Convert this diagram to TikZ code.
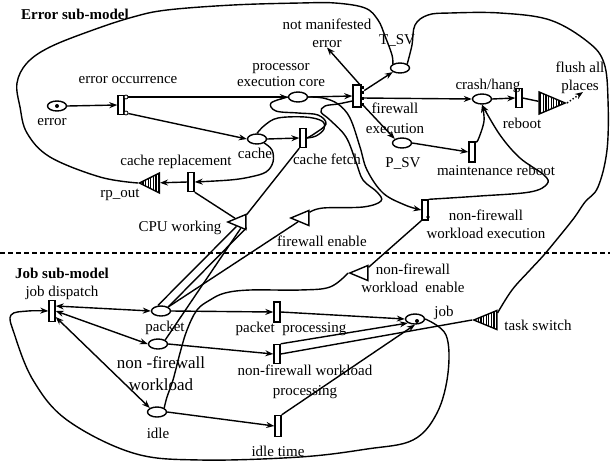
\documentclass[tikz,border=0pt]{standalone}
\usepackage{fontspec}
\setmainfont{Liberation Serif}
\usetikzlibrary{arrows.meta,shapes.geometric,patterns.meta}

\tikzset{
  place/.style={draw, ellipse, line width=1.4pt, minimum width=19pt, minimum height=10pt, inner sep=0pt},
  trans/.style={draw, rectangle, line width=1.4pt, minimum width=6pt, minimum height=19pt, inner sep=0pt, fill=white},
  casept/.style={draw, circle, line width=0.8pt, minimum size=4pt, inner sep=0pt, fill=white},
  stub/.style={fill, rectangle, minimum width=4pt, minimum height=3pt, inner sep=0pt},
  ingate/.style={draw, isosceles triangle, isosceles triangle stretches, shape border rotate=180,
    minimum height=18pt, minimum width=15pt, inner sep=0pt, line width=1.4pt, fill=white, anchor=apex},
  outgate/.style={ingate, pattern={Lines[angle=90,distance=2.6pt,line width=1.1pt]}},
  lbl/.style={font=\fontsize{15}{18}\selectfont, inner sep=0pt, align=center},
  title/.style={lbl, font=\fontsize{15}{18}\selectfont\bfseries},
  arc/.style={line width=1.4pt, -{Stealth[length=8pt,width=6pt]}},
  dblarc/.style={line width=1.4pt, {Stealth[length=8pt,width=6pt]}-{Stealth[length=8pt,width=6pt]}},
  link/.style={line width=1.4pt},
}

\begin{document}
\begin{tikzpicture}[x=1pt, y=-1pt]
    \useasboundingbox (0,0) rectangle (610,464);

    % Error sub-model
    \node[title] (t-err) at (75,14) {Error sub-model};

    \node[place] (err) at (57,106) {};
    \fill (err) circle (2pt);
    \node[trans] (eocc) at (121,105) {};
    \node[casept] (eoA) at (126,97) {};
    \node[casept] (eoB) at (126,113) {};
    \node[place] (core) at (298,97) {};
    \node[place] (cache) at (257,139) {};
    \node[trans] (cfetch) at (303,138) {};
    \node[trans] (crepl) at (191,182) {};
    \node[outgate, minimum height=20pt, minimum width=20pt] (rpout) at (138,183) {};
    \node[ingate] (cpu) at (226,222) {};
    \node[ingate] (fwen) at (289,218) {};

    \node[trans, minimum width=8pt, minimum height=22pt] (fwex) at (357,96) {};
    \node[stub] (fs1) at (362,87) {};
    \node[stub] (fs2) at (362,92) {};
    \node[stub] (fs3) at (362,98) {};
    \node[stub] (fs4) at (362,104) {};
    \node[place] (tsv) at (400,68) {};
    \node[place] (crash) at (482,99) {};
    \node[place] (psv) at (402,143) {};
    \node[trans] (reboot) at (519,98) {};
    \node[outgate, shape border rotate=0, minimum height=26pt, minimum width=22pt] (flush) at (567,103) {};
    \coordinate (flushend) at (583,92);
    \node[trans, minimum height=20pt] (mreboot) at (472,152) {};
    \node[trans, minimum height=20pt] (nfwex) at (425,210) {};
    \fill (428,217) circle (1.8pt);

    % labels
    \node[lbl] (nme) at (327,33) {not manifested\\error};
    \node[lbl] (l-tsv) at (397,40) {T\_SV};
    \node[lbl] (l-core) at (281,75) {processor\\[-2pt]execution core};
    \node[lbl] (l-eocc) at (128,80) {error occurrence};
    \node[lbl] (l-err) at (52,122) {error};
    \node[lbl] (l-cache) at (255,153) {cache};
    \node[lbl] (l-crepl) at (176,162) {cache replacement};
    \node[lbl] (l-rpout) at (120,195) {rp\_out};
    \node[lbl] (l-cpu) at (180,228) {CPU working};
    \node[lbl] (l-cfetch) at (327,159) {cache fetch};
    \node[lbl] (l-fwex) at (395,118) {firewall\\[2pt]execution};
    \node[lbl] (l-psv) at (403,163) {P\_SV};
    \node[lbl] (l-crash) at (488,86) {crash/hang};
    \node[lbl] (l-reboot) at (522,123) {reboot};
    \node[lbl] (l-mreboot) at (496,170) {maintenance reboot};
    \node[lbl] (l-flush) at (580,78) {flush all\\places};
    \node[lbl] (l-nfwex) at (486,224) {non-firewall\\workload execution};
    \node[lbl] (l-fwen) at (322,241) {firewall enable};

    % arcs
    \draw[arc] (err.east) -- (eocc.west);
    \draw[arc] (eoA) -- (core.west);
    \draw[arc] (eoB) -- (cache.west);
    \draw[arc] (core.east) -- (fwex.west);
    \draw[arc] (cache.east) -- (cfetch.west);
    \draw[arc] (fs1) -- (nme.south);
    \draw[arc] (fs2) -- (tsv.south west);
    \draw[arc] (fs3) -- (crash.west);
    \draw[arc] (fs4) -- (psv.north west);
    \draw[arc] (crash.east) -- (reboot.west);
    \draw[link] (reboot.east) -- (flush);
    \draw[arc, dotted] (flush.apex) -- (flushend);
    \draw[arc] (psv.east) -- (mreboot.west);
    \draw[arc] (crepl.west) -- (rpout);
    \draw[link] (crepl.south east) -- (cpu);
    \draw[link] (cpu) -- (cfetch.south west);
    \draw[arc] plot[smooth, tension=0.6] coordinates {(mreboot.north east) (478,140) (484,121) (crash.south)};
    \draw[arc] plot[smooth, tension=0.6] coordinates {(nfwex.north east) (480,196) (530,192) (547,184) (544,175) (520,158) (500,135) (crash.south)};
    \draw[arc] plot[smooth, tension=0.6] coordinates {(cache.south east) (272,150) (273,162) (266,172) (250,177) (230,180) (crepl.east)};
    \draw[link] plot[smooth, tension=0.6] coordinates {(cfetch.east) (316,136) (324,129) (322,121) (305,117) (278,118) (265,125) (cache.north)};
    \draw[link] plot[smooth, tension=0.6] coordinates {(cfetch.east) (314,134) (326,124) (318,115) (298,113) (276,111) (271,103) (core.west)};
    \draw[arc] plot[smooth, tension=0.6] coordinates {(core.east) (323,98) (338,104) (350,118) (360,147) (367,170) (383,193) (405,205) (nfwex.west)};
    \draw[link] plot[smooth, tension=0.6] coordinates {(fwen.north east) (323,208) (363,207) (381,201) (377,192) (363,180) (356,162) (346,137) (330,120) (321,112) (325,106) (338,104) ([yshift=-5pt]fwex.west)};

    % separator
    \draw[line width=1.4pt, dash pattern=on 5pt off 3pt] (0,253) -- (610,253);

    % Job sub-model
    \node[title] (t-job) at (62,273) {Job sub-model};

    \node[trans, minimum height=21pt] (jdisp) at (52,311) {};
    \node[place] (packet) at (161,311) {};
    \node[place] (nfw) at (158,344) {};
    \node[place] (idle) at (157,412) {};
    \node[trans, minimum height=20pt] (pproc) at (277,312) {};
    \node[trans] (nproc) at (277,354) {};
    \node[trans, minimum height=21pt] (itime) at (278,426) {};
    \node[place] (job) at (415,319) {};
    \fill (417,321) circle (2pt);
    \node[ingate] (nfwen) at (348,273) {};
    \node[outgate, minimum height=23pt, minimum width=19pt] (tsw) at (472,320) {};

    \node[lbl] (l-jdisp) at (62,293) {job dispatch};
    \node[lbl] (l-packet) at (165,328) {packet};
    \node[lbl, font=\fontsize{17}{22}\selectfont] (l-nfw) at (161,374) {non -firewall\\workload};
    \node[lbl] (l-idle) at (158,433) {idle};
    \node[lbl] (l-pproc) at (291,329) {packet\ \ processing};
    \node[lbl] (l-nproc) at (305,382) {non-firewall workload\\[2pt]processing};
    \node[lbl] (l-itime) at (278,451) {idle time};
    \node[lbl] (l-nfwen) at (413,278) {non-firewall\\workload\ \ enable};
    \node[lbl] (l-job) at (444,313) {job};
    \node[lbl] (l-tsw) at (538,325) {task switch};

    \draw[dblarc] ([yshift=5pt]jdisp.east) -- (packet.west);
    \draw[dblarc] (jdisp.east) -- (nfw.west);
    \draw[dblarc] ([yshift=-6pt]jdisp.east) -- (idle.north west);
    \draw[arc] (packet.east) -- (pproc.west);
    \draw[arc] (nfw.east) -- (nproc.west);
    \draw[arc] (idle.east) -- (itime.west);
    \draw[arc] (pproc.east) -- (job.west);
    \draw[arc] (nproc.north east) -- (job.south west);
    \draw[arc] (itime.north east) -- (job.south);
    \draw[link] (nproc.east) -- (tsw.apex);
    \draw[link] ([xshift=-3pt]packet.north) -- (cpu);
    \draw[link] (packet.north east) -- (cpu.south east);
    \draw[link] (packet.north east) -- (fwen);
    \draw[link] (nfw.north east) -- (cpu.south);
    \draw[link] (nfwen.north east) -- (nfwex.south west);
    \draw[link] plot[smooth, tension=0.6] coordinates {(idle.north east) (167,397) (173,380) (180,353) (187,330) (197,310) (210,300) (225,293) (250,290) (300,290) (330,287) (nfwen.apex)};
    \draw[arc] plot[smooth, tension=0.6] coordinates {(job.east) (446,335) (448,373) (437,413) (413,440) (367,449) (300,457) (200,460) (133,453) (67,420) (33,380) (14,333) (11,315) (28,311) (jdisp.west)};

    % big loops
    \draw[link] plot[smooth, tension=0.6] coordinates {(rpout.apex) (100,177) (50,157) (27,133) (20,107) (17,83) (27,63) (50,47) (93,30) (133,17) (167,10) (233,5) (300,3) (335,3) (365,8) (378,20) (385,36) (392,55) (tsv.north west)};
    \draw[link] plot[smooth, tension=0.6] coordinates {(tsv.north east) (412,45) (415,25) (428,15) (450,13) (500,13) (550,20) (588,42) (604,63) (608,100) (607,150) (598,187) (585,202) (574,218) (558,238) (543,256) (530,270) (512,290) (tsw.north east)};

\end{tikzpicture}
\end{document}
